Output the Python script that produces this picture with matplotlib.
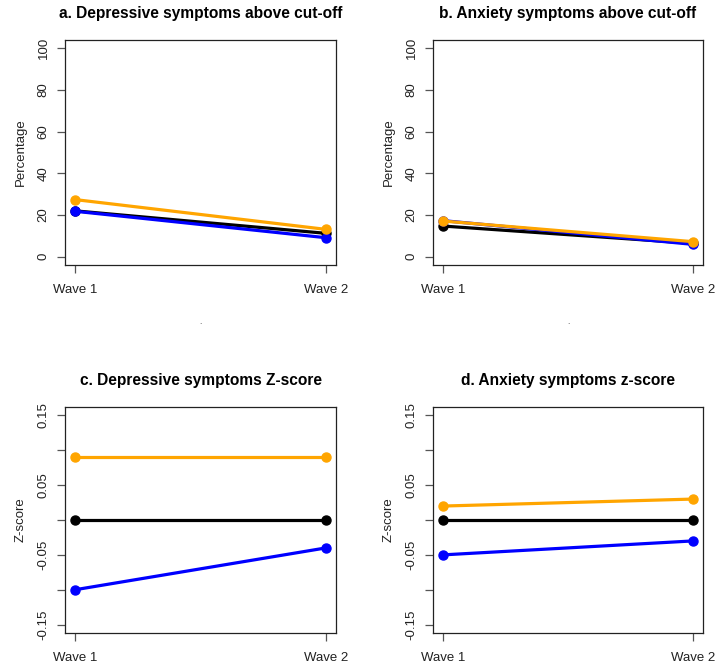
import matplotlib
matplotlib.use("Agg")
import matplotlib.pyplot as plt

plt.rcParams["font.family"] = ["Liberation Sans", "DejaVu Sans"]

waves = ["Wave 1", "Wave 2"]
x = [1, 2]

# 面板 a/b：百分比；c/d：z 分数
dep_pct = {"black": [22.0, 11.2], "blue": [21.8, 9.1], "orange": [27.4, 13.1]}
anx_pct = {"black": [14.7, 6.4], "blue": [17.3, 5.9], "orange": [17.1, 7.2]}
dep_z = {"black": [0.0, 0.0], "blue": [-0.10, -0.04], "orange": [0.09, 0.09]}
anx_z = {"black": [0.0, 0.0], "blue": [-0.05, -0.03], "orange": [0.02, 0.03]}

titles = [
    "a. Depressive symptoms above cut-off",
    "b. Anxiety symptoms above cut-off",
    "c. Depressive symptoms Z-score",
    "d. Anxiety symptoms z-score",
]
pct_ticks = [0, 20, 40, 60, 80, 100]
z_ticks = [-0.15, -0.10, -0.05, 0.0, 0.05, 0.10, 0.15]
z_labels = ["-0.15", "", "-0.05", "", "0.05", "", "0.15"]

fig = plt.figure(figsize=(7.2, 6.65), dpi=100)
W, H = 720, 665


def add_ax(l, t, r, b):
    return fig.add_axes([l / W, 1 - b / H, (r - l) / W, (b - t) / H])


axes = [
    add_ax(65, 40, 336, 265),
    add_ax(433, 40, 703, 265),
    add_ax(65, 407, 336, 633),
    add_ax(433, 407, 703, 633),
]
datasets = [dep_pct, anx_pct, dep_z, anx_z]
txt = "#222222"

for i, (ax, data, title) in enumerate(zip(axes, datasets, titles)):
    for col in ["black", "blue", "orange"]:
        ax.plot(x, data[col], color=col, lw=2.3, marker="o", ms=6.5,
                solid_capstyle="butt")
    ax.set_xlim(0.96, 2.04)
    ax.set_xticks(x)
    ax.set_xticklabels(waves, fontsize=9.5, color=txt)
    if i < 2:
        ax.set_ylim(-4, 104)
        ax.set_yticks(pct_ticks)
        ax.set_yticklabels([str(v) for v in pct_ticks], fontsize=9.5,
                           rotation=90, va="center", color=txt)
        ax.set_ylabel("Percentage", fontsize=9.5, labelpad=8, color=txt)
        ax.set_xlabel(".", fontsize=6, labelpad=16, color="#333333")
    else:
        ax.set_ylim(-0.162, 0.162)
        ax.set_yticks(z_ticks)
        ax.set_yticklabels(z_labels, fontsize=9.5, rotation=90, va="center",
                           color=txt)
        ax.set_ylabel("Z-score", fontsize=9.5, labelpad=8, color=txt)
    ax.set_title(title, fontsize=11.2, fontweight="bold", pad=16)
    ax.tick_params(direction="out", length=6, width=0.9, color="#555555",
                   pad=5)
    ax.tick_params(axis="x", pad=8)
    for s in ax.spines.values():
        s.set_linewidth(0.9)
        s.set_color("#222222")

plt.savefig("out.png", dpi=100)
